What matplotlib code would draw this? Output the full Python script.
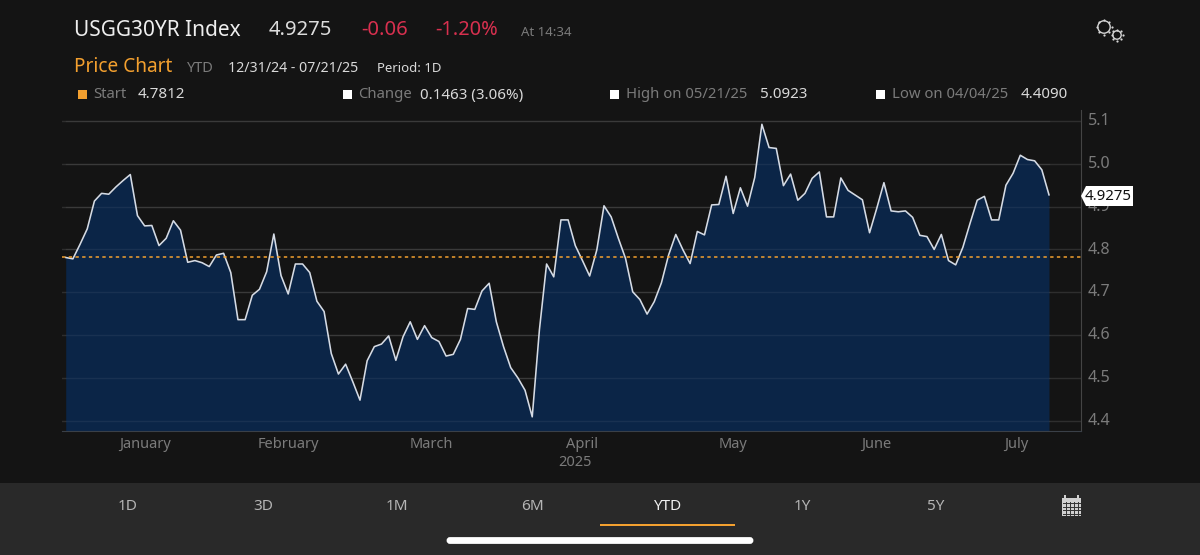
import numpy as np
import matplotlib
matplotlib.use("Agg")
import matplotlib.pyplot as plt
from matplotlib.patches import Rectangle, FancyBboxPatch, Polygon, Circle
from matplotlib.transforms import ScaledTranslation

# daily close
prices = [
    4.7812, 4.778, 4.812, 4.848, 4.913, 4.931, 4.929, 4.946, 4.961, 4.975,
    4.879, 4.855, 4.856, 4.809, 4.826, 4.867, 4.845, 4.770, 4.774, 4.769,
    4.760, 4.787, 4.791, 4.746, 4.636, 4.636, 4.693, 4.707, 4.748, 4.836,
    4.739, 4.696, 4.766, 4.766, 4.746, 4.679, 4.655, 4.557, 4.509, 4.532,
    4.491, 4.448, 4.540, 4.573, 4.579, 4.598, 4.541, 4.596, 4.631, 4.590,
    4.622, 4.594, 4.585, 4.551, 4.555, 4.590, 4.662, 4.660, 4.703, 4.721,
    4.631, 4.573, 4.524, 4.500, 4.471, 4.409, 4.612, 4.766, 4.736, 4.869,
    4.869, 4.809, 4.774, 4.738, 4.799, 4.902, 4.876, 4.826, 4.779, 4.701,
    4.683, 4.649, 4.678, 4.722, 4.787, 4.835, 4.799, 4.767, 4.842, 4.834,
    4.904, 4.905, 4.971, 4.884, 4.944, 4.901, 4.968, 5.0923, 5.038, 5.036,
    4.949, 4.976, 4.915, 4.931, 4.966, 4.981, 4.876, 4.876, 4.967, 4.938,
    4.927, 4.916, 4.839, 4.896, 4.956, 4.890, 4.888, 4.890, 4.875, 4.833,
    4.830, 4.800, 4.835, 4.774, 4.764, 4.805, 4.861, 4.915, 4.924, 4.869,
    4.869, 4.950, 4.978, 5.020, 5.010, 5.007, 4.986, 4.9275,
]
start_price = 4.7812
last_label = "4.9275"
month_names = ["January", "February", "March", "April", "May", "June", "July"]
month_pos = [11, 31, 51, 72, 93, 113, 132.5]
y_ticks = [4.4, 4.5, 4.6, 4.7, 4.8, 4.9, 5.0, 5.1]
ranges = ["1D", "3D", "1M", "6M", "YTD", "1Y", "5Y"]
range_x = [128, 263, 397, 532, 667, 802, 936]

BG = "#141414"
BAR = "#292929"
FILL = "#0b2547"
GREY = "#7b7b7b"
LIGHT = "#d9d9d9"
ORANGE = "#f3a02f"
RED = "#d8304f"
FONT = "Noto Sans"

plt.rcParams["font.family"] = FONT
W, H = 1200, 555
fig = plt.figure(figsize=(W / 100, H / 100), dpi=100, facecolor=BG)

# chart axes, placed by pixels
L, R, T, B = 62, 1081, 110, 431
ax = fig.add_axes([L / W, 1 - B / H, (R - L) / W, (B - T) / H], facecolor=BG)
x = np.arange(len(prices))
step = (1049 - 65.7) / (len(prices) - 1)
ax.set_xlim((L - 65.7) / step, (R - 65.7) / step)
ax.set_ylim(4.4 - (B - 420.7) / 428, 5.1 + (121 - T) / 428)
for t in y_ticks:
    ax.axhline(t, color="#2e2e2e", lw=1.0, zorder=0.5)
ax.fill_between(x, prices, ax.get_ylim()[0], color=FILL, lw=0, zorder=1)
for t in y_ticks:
    ax.plot([x[0], x[-1]], [t, t], color="white", alpha=0.06, lw=1.0, zorder=1.5)
ax.plot(x, prices, color="#d5dbe5", lw=1.15, zorder=3)
ax.axhline(start_price, color=ORANGE, lw=1.1, dashes=(2.2, 2.2), zorder=4)

for s in ["top", "left"]:
    ax.spines[s].set_visible(False)
ax.spines["right"].set_color("#444444")
ax.spines["bottom"].set_color("#3a4048")
ax.yaxis.tick_right()
ax.set_yticks(y_ticks)
ax.set_yticklabels(["%.1f" % t for t in y_ticks], color=GREY, fontsize=11.5)
ax.tick_params(axis="y", length=0, pad=5)
lift = ScaledTranslation(0, 1.3 / 72, fig.dpi_scale_trans)
for lab in ax.get_yticklabels():
    lab.set_transform(lab.get_transform() + lift)
ax.set_xticks(month_pos)
ax.set_xticklabels(month_names, color=GREY, fontsize=10.5)
ax.tick_params(axis="x", length=0, pad=4)

# overlay in pixel coords for the app chrome
ov = fig.add_axes([0, 0, 1, 1], facecolor="none")
ov.set_xlim(0, W)
ov.set_ylim(H, 0)
ov.axis("off")


def txt(px, py, s, color=LIGHT, size=10, ha="left", weight="normal"):
    ov.text(px, py, s, color=color, fontsize=size, ha=ha, va="center", fontweight=weight)


txt(74, 30, "USGG30YR Index", "#eeeeee", 15, weight="medium")
txt(269, 30, "4.9275", "#dddddd", 14.6)
txt(361, 30, "-0.06", RED, 14.6)
txt(435, 30, "-1.20%", RED, 14.4)
txt(521, 32, "At 14:34", GREY, 9.5)

txt(74, 67, "Price Chart", ORANGE, 13.7, weight="medium")
txt(187, 68, "YTD", GREY, 10.5)
txt(228, 68, "12/31/24 - 07/21/25", LIGHT, 10.2)
txt(377, 68, "Period: 1D", LIGHT, 9.5)

legend = [
    (78, ORANGE, "Start", 93, "4.7812", 138),
    (343, "white", "Change", 358, "0.1463 (3.06%)", 420),
    (610, "white", "High on 05/21/25", 626, "5.0923", 760),
    (876, "white", "Low on 04/04/25", 892, "4.4090", 1021),
]
for sx, col, name, nx, val, vx in legend:
    ov.add_patch(Rectangle((sx, 90), 8.5, 8.5, color=col, lw=0))
    txt(nx, 95, name, GREY, 10.7)
    txt(vx, 95, val, LIGHT, 10.9)

txt(575, 463, "2025", GREY, 10.5, ha="center")

# last price flag
ov.add_patch(Polygon([(1081, 196), (1086, 186), (1133, 186), (1133, 206), (1086, 206)],
                     closed=True, color="white", lw=0, zorder=5))
ov.text(1108.5, 196, last_label, color="#111111", fontsize=10.8, ha="center", va="center", zorder=6)

# bottom bar
ov.add_patch(Rectangle((0, 483), W, H - 483, color=BAR, lw=0))
for s, px in zip(ranges, range_x):
    txt(px, 507, s, "#f0f0f0" if s == "YTD" else "#b5b5b5", 11, ha="center")
ov.add_patch(Rectangle((600, 524), 135, 2.2, color=ORANGE, lw=0))
ov.add_patch(FancyBboxPatch((448, 538.5), 304, 4, boxstyle="round,pad=0,rounding_size=2",
                            color="white", lw=2))

# calendar icon
ov.add_patch(Rectangle((1062, 498), 19, 18, color="#d0d0d0", lw=0))
ov.add_patch(Rectangle((1064, 495), 1.6, 4, color="#d0d0d0", lw=0))
ov.add_patch(Rectangle((1077, 495), 1.6, 4, color="#d0d0d0", lw=0))
for i in range(4):
    ov.plot([1065.5 + i * 4, 1065.5 + i * 4], [502, 515], color="#333333", lw=0.7)
for j in range(4):
    ov.plot([1063, 1080], [503 + j * 3.5, 503 + j * 3.5], color="#333333", lw=0.7)

# gear icon
for cx, cy, r in [(1104, 27, 6.2), (1117, 35, 4.2)]:
    ov.add_patch(Circle((cx, cy), r, fill=False, ec="#d5d5d5", lw=1.0))
    for a in np.arange(0, 2 * np.pi, np.pi / 4):
        ov.plot(cx + (r + 1.3) * np.cos(a), cy + (r + 1.3) * np.sin(a), "o",
                color="#d5d5d5", ms=1.6, mew=0)

fig.savefig("out.png", dpi=100, facecolor=BG)
